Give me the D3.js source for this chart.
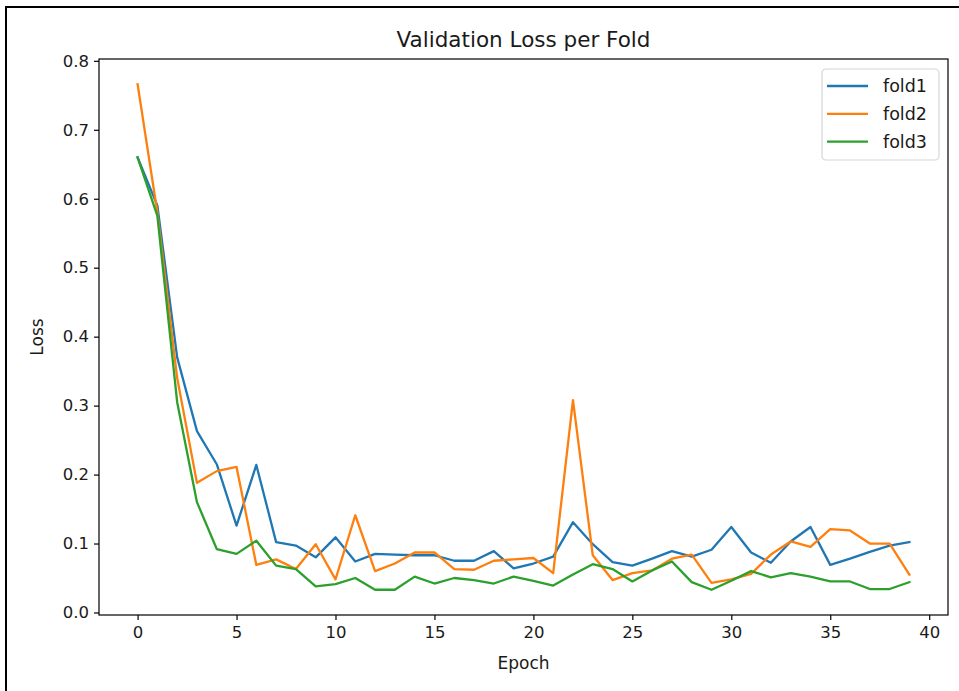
<!DOCTYPE html>
<html>
<head>
<meta charset="utf-8">
<script src="https://cdn.jsdelivr.net/npm/d3@7"></script>
<style>
  html, body { margin: 0; padding: 0; background: #fff; }
  svg { display: block; font-family: "DejaVu Sans", sans-serif; }
</style>
</head>
<body>
<svg id="chart" width="959" height="691"></svg>
<script>
// Validation loss per epoch for each cross-validation fold
const epochs = d3.range(0, 40);
const fold1 = [0.660, 0.590, 0.370, 0.263, 0.215, 0.126, 0.214, 0.102, 0.097, 0.080,
               0.109, 0.074, 0.085, 0.084, 0.083, 0.083, 0.075, 0.075, 0.089, 0.064,
               0.071, 0.081, 0.131, 0.099, 0.073, 0.068, 0.078, 0.089, 0.081, 0.091,
               0.124, 0.087, 0.072, 0.103, 0.124, 0.069, 0.078, 0.088, 0.097, 0.102];
const fold2 = [0.766, 0.580, 0.340, 0.188, 0.205, 0.211, 0.069, 0.077, 0.063, 0.099,
               0.048, 0.141, 0.060, 0.071, 0.087, 0.087, 0.063, 0.062, 0.075, 0.077,
               0.079, 0.057, 0.308, 0.083, 0.047, 0.057, 0.061, 0.078, 0.084, 0.043,
               0.048, 0.056, 0.084, 0.103, 0.095, 0.121, 0.119, 0.100, 0.100, 0.055];
const fold3 = [0.660, 0.575, 0.305, 0.160, 0.092, 0.085, 0.104, 0.068, 0.063, 0.038,
               0.041, 0.050, 0.033, 0.033, 0.052, 0.042, 0.050, 0.047, 0.042, 0.052,
               0.046, 0.039, 0.055, 0.070, 0.063, 0.045, 0.061, 0.074, 0.044, 0.033,
               0.046, 0.060, 0.051, 0.057, 0.052, 0.045, 0.045, 0.034, 0.034, 0.044];
const seriesNames = ["fold1", "fold2", "fold3"];
const seriesColors = ["#1f77b4", "#ff7f0e", "#2ca02c"];
const xTicks = [0, 5, 10, 15, 20, 25, 30, 35, 40];
const yTicks = [0.0, 0.1, 0.2, 0.3, 0.4, 0.5, 0.6, 0.7, 0.8];

const series = [fold1, fold2, fold3].map((vals, i) => ({
  name: seriesNames[i], color: seriesColors[i],
  points: vals.map((v, j) => [epochs[j], v])
}));

const svg = d3.select("#chart");
const plot = { left: 99, right: 948, top: 59, bottom: 615 };

// Frame around the whole figure
svg.append("rect")
  .attr("x", 6).attr("y", 7).attr("width", 1000).attr("height", 720)
  .attr("fill", "none").attr("stroke", "#000").attr("stroke-width", 2);

// Axis limits with a 5% margin on each side of the data
const allVals = [].concat(fold1, fold2, fold3);
const yMin = d3.min(allVals), yMax = d3.max(allVals);
const yPad = (yMax - yMin) * 0.05;
const xPad = (d3.max(epochs) - d3.min(epochs)) * 0.05;

const x = d3.scaleLinear()
  .domain([d3.min(epochs) - xPad, d3.max(epochs) + xPad])
  .range([plot.left, plot.right]);
const y = d3.scaleLinear()
  .domain([yMin - yPad, yMax + yPad])
  .range([plot.bottom, plot.top]);

const tickFont = 16.5;

// x axis
const xAxis = svg.append("g")
  .attr("transform", `translate(0,${plot.bottom})`)
  .call(d3.axisBottom(x).tickValues(xTicks).tickSize(5).tickPadding(6).tickFormat(d3.format("d")));
// y axis
const yAxis = svg.append("g")
  .attr("transform", `translate(${plot.left},0)`)
  .call(d3.axisLeft(y).tickValues(yTicks).tickSize(5).tickPadding(5).tickFormat(d3.format(".1f")));

[xAxis, yAxis].forEach(g => {
  g.select(".domain").remove();
  g.selectAll("line").attr("stroke", "#000").attr("stroke-width", 1.2);
  g.selectAll("text").attr("fill", "#1a1a1a")
    .style("font-family", "'DejaVu Sans', sans-serif").style("font-size", tickFont + "px");
});

// Data lines, clipped to the axes box
svg.append("clipPath").attr("id", "plot-clip")
  .append("rect")
  .attr("x", plot.left).attr("y", plot.top)
  .attr("width", plot.right - plot.left).attr("height", plot.bottom - plot.top);

const line = d3.line().x(d => x(d[0])).y(d => y(d[1]));
svg.append("g").attr("clip-path", "url(#plot-clip)")
  .selectAll("path").data(series).join("path")
  .attr("d", d => line(d.points))
  .attr("fill", "none")
  .attr("stroke", d => d.color)
  .attr("stroke-width", 2.3)
  .attr("stroke-linejoin", "round")
  .attr("stroke-linecap", "square");

// Axes box
svg.append("rect")
  .attr("x", plot.left).attr("y", plot.top)
  .attr("width", plot.right - plot.left).attr("height", plot.bottom - plot.top)
  .attr("fill", "none").attr("stroke", "#000").attr("stroke-width", 1.2);

// Title and axis labels
svg.append("text")
  .attr("x", (plot.left + plot.right) / 2).attr("y", 47)
  .attr("text-anchor", "middle")
  .style("font-size", "21.5px").attr("fill", "#1a1a1a")
  .text("Validation Loss per Fold");

svg.append("text")
  .attr("x", (plot.left + plot.right) / 2).attr("y", 669)
  .attr("text-anchor", "middle")
  .style("font-size", "17px").attr("fill", "#1a1a1a")
  .text("Epoch");

svg.append("text")
  .attr("transform", `translate(43,${(plot.top + plot.bottom) / 2}) rotate(-90)`)
  .attr("text-anchor", "middle")
  .style("font-size", "17px").attr("fill", "#1a1a1a")
  .text("Loss");

// Legend
const legend = svg.append("g").attr("transform", "translate(822,69)");
legend.append("rect")
  .attr("width", 117).attr("height", 91).attr("rx", 4)
  .attr("fill", "#fff").attr("fill-opacity", 0.8)
  .attr("stroke", "#d6d6d6").attr("stroke-width", 1.2);
const items = legend.selectAll("g.item").data(series).join("g")
  .attr("class", "item")
  .attr("transform", (d, i) => `translate(0,${17 + i * 27.8})`);
items.append("line")
  .attr("x1", 5).attr("x2", 46)
  .attr("stroke", d => d.color).attr("stroke-width", 2.3);
items.append("text")
  .attr("x", 61).attr("dy", "0.35em")
  .style("font-size", "17.5px").attr("fill", "#1a1a1a")
  .text(d => d.name);
</script>
</body>
</html>
